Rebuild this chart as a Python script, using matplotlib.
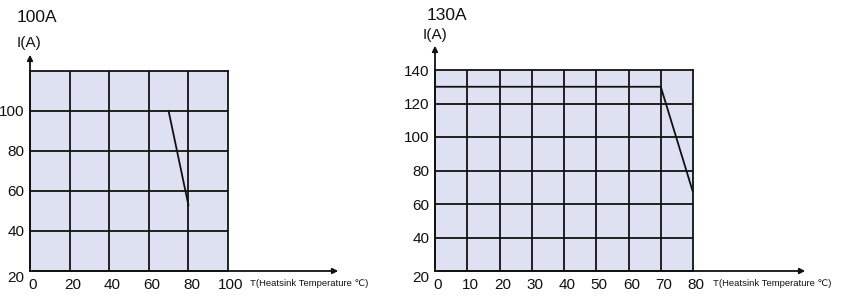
import matplotlib
matplotlib.use("Agg")
import matplotlib.pyplot as plt
import matplotlib.transforms as mtransforms

# ---- data ----
left_title = "100A"
left_T = [70, 80]
left_I = [100, 53]
left_xticks = [0, 20, 40, 60, 80, 100]
left_yticks = [20, 40, 60, 80, 100]
left_ygrid = [40, 60, 80, 100]
left_xlim = (0, 100)
left_ylim = (20, 120)

right_title = "130A"
right_T = [0, 70, 80]
right_I = [130, 130, 67]
right_xticks = [0, 10, 20, 30, 40, 50, 60, 70, 80]
right_yticks = [20, 40, 60, 80, 100, 120, 140]
right_ygrid = [40, 60, 80, 100, 120]
right_xlim = (0, 80)
right_ylim = (20, 140)

xlabel = "T(Heatsink Temperature \u2103)"
ylabel = "I(A)"

W, H = 843, 305
fig = plt.figure(figsize=(W / 100, H / 100), dpi=100)
plt.rcParams['font.family'] = ['Liberation Sans', 'DejaVu Sans']

FILL = "#dee1f2"


def px(x, y):
    return (x / W, 1 - y / H)


def make(axbox, xlim, ylim, xticks, yticks, ygrid, T, I, title, tpos, lpos,
         yarrow_top, xarrow_right, xlabel_pos):
    x0, y0 = px(axbox[0], axbox[3])
    x1, y1 = px(axbox[2], axbox[1])
    ax = fig.add_axes([x0, y0, x1 - x0, y1 - y0])
    ax.set_facecolor(FILL)
    ax.set_xlim(*xlim)
    ax.set_ylim(*ylim)
    for s in ax.spines.values():
        s.set_linewidth(1.3)
        s.set_color("#111111")
    for xv in xticks[1:-1]:
        ax.axvline(xv, color="#111111", lw=1.3, zorder=1)
    for yv in ygrid:
        ax.axhline(yv, color="#111111", lw=1.3, zorder=1)
    ax.plot(T, I, color="#111111", lw=1.3, zorder=3)
    ax.set_xticks(xticks)
    ax.set_yticks(yticks)
    ax.tick_params(axis="y", length=0, labelsize=11, pad=4, colors="#111111")
    ax.tick_params(axis="x", length=0, labelsize=11, pad=5, colors="#111111")
    off = mtransforms.ScaledTranslation(3 / 100, 0, fig.dpi_scale_trans)
    for lab in ax.get_xticklabels():
        lab.set_transform(lab.get_transform() + off)
    # bottom y-label "20" sits a bit lower
    ylabs = ax.get_yticklabels()
    offy = mtransforms.ScaledTranslation(0, -5 / 100, fig.dpi_scale_trans)
    ylabs[0].set_transform(ylabs[0].get_transform() + offy)

    # axis arrows
    ox, oy = px(axbox[0], axbox[3])
    fig.add_artist(matplotlib.patches.FancyArrowPatch(
        (ox, oy), px(axbox[0], yarrow_top), transform=fig.transFigure,
        arrowstyle="-|>", mutation_scale=8, lw=1.3, color="#111111"))
    fig.add_artist(matplotlib.patches.FancyArrowPatch(
        (ox, oy), px(xarrow_right, axbox[3]), transform=fig.transFigure,
        arrowstyle="-|>", mutation_scale=8, lw=1.3, color="#111111"))
    fig.text(*px(*tpos), title, fontsize=12.5, va="center", ha="left", color="#111111")
    fig.text(*px(*lpos), ylabel, fontsize=11, va="center", ha="left", color="#111111")
    fig.text(*px(*xlabel_pos), xlabel, fontsize=6.8, va="center", ha="left",
             family=['Liberation Sans', 'DejaVu Sans'], color="#111111")
    return ax


make((30, 71, 228, 271), left_xlim, left_ylim, left_xticks, left_yticks, left_ygrid,
     left_T, left_I, left_title, (17, 17), (17, 43), 52, 341, (250, 284))
make((435, 70, 693, 271), right_xlim, right_ylim, right_xticks, right_yticks, right_ygrid,
     right_T, right_I, right_title, (427, 15), (423, 35), 43, 808, (713, 284))

fig.savefig("out.png", dpi=100)
